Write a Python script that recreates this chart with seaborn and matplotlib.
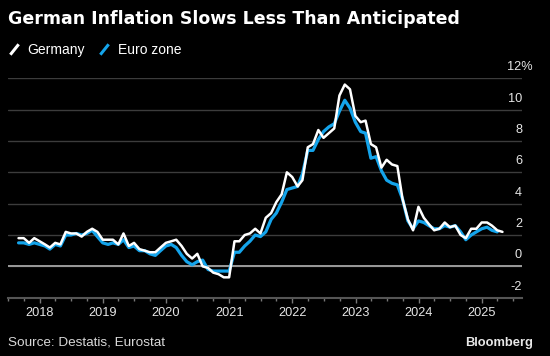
import pandas as pd
import matplotlib.pyplot as plt
import matplotlib.dates as mdates
import seaborn as sns
from matplotlib.lines import Line2D
from matplotlib.path import Path
from matplotlib.transforms import ScaledTranslation

# monthly HICP, % y/y, Aug 2017 onward
germany = [1.8, 1.8, 1.5, 1.8, 1.6,
           1.4, 1.2, 1.5, 1.4, 2.2, 2.1, 2.1, 1.9, 2.2, 2.4, 2.2, 1.7,
           1.7, 1.7, 1.4, 2.1, 1.3, 1.5, 1.1, 1.0, 0.9, 0.9, 1.2, 1.5,
           1.6, 1.7, 1.3, 0.8, 0.5, 0.8, 0.0, -0.1, -0.4, -0.5, -0.7, -0.7,
           1.6, 1.6, 2.0, 2.1, 2.4, 2.1, 3.1, 3.4, 4.1, 4.6, 6.0, 5.7,
           5.1, 5.5, 7.6, 7.8, 8.7, 8.2, 8.5, 8.8, 10.9, 11.6, 11.3, 9.6,
           9.2, 9.3, 7.8, 7.6, 6.3, 6.8, 6.5, 6.4, 4.3, 3.0, 2.3, 3.8,
           3.1, 2.7, 2.3, 2.4, 2.8, 2.5, 2.6, 2.0, 1.8, 2.4, 2.4, 2.8,
           2.8, 2.6, 2.3, 2.2]
euro_zone = [1.5, 1.5, 1.4, 1.5, 1.4,
             1.3, 1.1, 1.4, 1.3, 2.0, 2.0, 2.1, 2.0, 2.1, 2.3, 1.9, 1.5,
             1.4, 1.5, 1.4, 1.7, 1.2, 1.3, 1.0, 1.0, 0.8, 0.7, 1.0, 1.3,
             1.4, 1.2, 0.7, 0.3, 0.1, 0.3, 0.4, -0.2, -0.3, -0.3, -0.3, -0.3,
             0.9, 0.9, 1.3, 1.6, 2.0, 1.9, 2.2, 3.0, 3.4, 4.1, 4.9, 5.0,
             5.1, 5.9, 7.4, 7.4, 8.1, 8.6, 8.9, 9.1, 9.9, 10.6, 10.1, 9.2,
             8.6, 8.5, 6.9, 7.0, 6.1, 5.5, 5.3, 5.2, 4.3, 2.9, 2.4, 2.9,
             2.8, 2.6, 2.4, 2.4, 2.6, 2.5, 2.6, 2.2, 1.7, 2.0, 2.2, 2.4,
             2.5, 2.3, 2.2]
germany_dates = pd.date_range('2017-08-31', periods=len(germany), freq='ME')
euro_dates = pd.date_range('2017-08-31', periods=len(euro_zone), freq='ME')

y_ticks = [-2, 0, 2, 4, 6, 8, 10, 12]
y_labels = ['-2', '0', '2', '4', '6', '8', '10', '12%']
series_names = ['Germany', 'Euro zone']

sns.set_theme(style='white')
plt.rcParams['font.family'] = ['Liberation Sans', 'DejaVu Sans']

fig = plt.figure(figsize=(5.5, 3.56), dpi=100, facecolor='black')
ax = fig.add_axes([8/550, 1 - 297.7/356, 514/550, 219.4/356], facecolor='black')

sns.lineplot(x=euro_dates, y=euro_zone, color='#14a4eb', lw=2.3, ax=ax, zorder=3)
sns.lineplot(x=germany_dates, y=germany, color='white', lw=1.8, ax=ax, zorder=4)

ax.set_xlim(pd.Timestamp('2017-07-01'), pd.Timestamp('2025-08-21'))
ax.set_ylim(-2, 12)
ax.set_xlabel('')
ax.set_ylabel('')

ax.xaxis.set_major_locator(mdates.YearLocator())
ax.xaxis.set_major_formatter(mdates.DateFormatter('%Y'))
ax.xaxis.set_minor_locator(mdates.MonthLocator(bymonth=[1, 4, 7, 10]))
ax.tick_params(axis='x', which='major', direction='out', length=3.8, width=1,
               color='#777777', pad=3, labelsize=9.2, labelcolor='#e6e6e6', bottom=True)
ax.tick_params(axis='x', which='minor', direction='out', length=2.2, width=1,
               color='#777777', bottom=True)

# gridlines at the y ticks, labels sit just above each line at the right edge
ax.set_yticks(y_ticks)
ax.tick_params(axis='y', length=0, left=False, right=False,
               labelleft=False, labelright=False)
for val, lab in zip(y_ticks, y_labels):
    dx = 11/100 if lab.endswith('%') else 0
    tr = ax.get_yaxis_transform() + ScaledTranslation(dx, 11/100, fig.dpi_scale_trans)
    ax.text(1.0, val, lab, transform=tr, ha='right', va='center',
            fontsize=9.2, color='#e6e6e6', clip_on=False)

ax.grid(axis='y', color='#3c3c3c', lw=1)
ax.grid(axis='x', visible=False)
ax.axhline(0, color='#9a9a9a', lw=1.4, zorder=2)
for side in ['top', 'left', 'right']:
    ax.spines[side].set_visible(False)
ax.spines['bottom'].set_color('#555555')
ax.spines['bottom'].set_linewidth(1.5)

fig.text(8/550, 1 - 19/356, 'German Inflation Slows Less Than Anticipated',
         fontsize=12.5, weight='bold', color='white', va='center', ha='left',
         family='DejaVu Sans')

slash = Path([(-0.8, -1), (0.8, 1)])
handles = [Line2D([], [], ls='None', marker=slash, markersize=7.5, mew=2.2,
                  mec=c, mfc='none') for c in ['white', '#14a4eb']]
fig.legend(handles=handles, labels=series_names, loc='center left',
           bbox_to_anchor=(8/550, 1 - 50/356), ncol=2, frameon=False,
           handlelength=0.8, handletextpad=0.6, columnspacing=1.0,
           borderpad=0, borderaxespad=0, fontsize=10, labelcolor='white')

fig.text(8/550, 1 - 342.7/356, 'Source: Destatis, Eurostat', fontsize=9.7,
         color='#d9d9d9', va='center', ha='left')
fig.text(533/550, 1 - 342.7/356, 'Bloomberg', fontsize=9.3, weight='bold',
         color='#e8e8e8', va='center', ha='right')

fig.savefig('out.png', dpi=100, facecolor='black')
